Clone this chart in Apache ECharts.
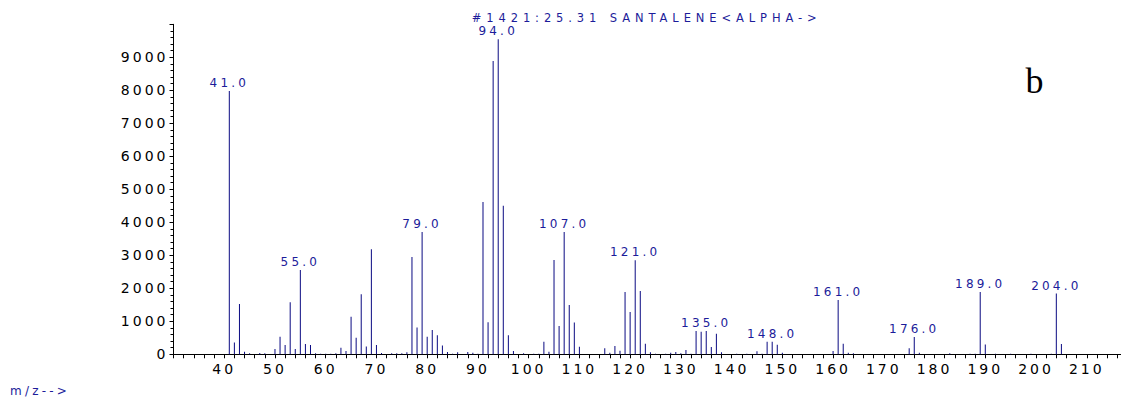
<!DOCTYPE html>
<html><head><meta charset="utf-8">
<script src="https://cdn.jsdelivr.net/npm/echarts@6/dist/echarts.min.js"></script>
<style>
html,body{margin:0;padding:0;background:#fff}
#chart{width:1121px;height:401px}
#chart text[style*="Verdana"]{letter-spacing:3px}
#chart text[style*="Tahoma"]{letter-spacing:3.2px}
#chart text[style*="Geneva"]{letter-spacing:4.9px}
</style></head><body><div id="chart"></div>
<script>
const mz = [41,42,43,44,45,47,48,50,51,52,53,54,55,56,57,58,59,60,61,62,63,64,65,66,67,68,69,70,71,73,74,75,76,77,78,79,80,81,82,83,84,85,86,88,89,90,91,92,93,94,95,96,97,99,101,102,103,104,105,106,107,108,109,110,115,116,117,118,119,120,121,122,123,124,125,127,128,129,130,131,132,133,134,135,136,137,138,141,143,145,146,147,148,149,150,160,161,162,163,164,175,176,177,183,187,188,189,190,192,195,199,203,204,205];
const intensity = [7980,360,1525,80,30,40,30,160,535,280,1575,160,2555,310,280,30,15,15,15,30,200,100,1140,505,1820,240,3180,280,40,30,30,30,60,2950,810,3705,535,735,575,270,70,20,60,70,50,20,4615,970,8890,9545,4505,575,100,30,15,15,380,80,2860,860,3705,1495,960,230,180,50,250,110,1890,1280,2850,1920,320,60,20,20,50,70,30,130,20,705,685,705,220,625,60,20,20,90,20,380,380,290,50,100,1645,320,50,30,180,525,50,30,15,20,1890,300,15,15,15,15,1840,310];
const labeledPeaks = [41,55,79,94,107,121,135,148,161,176,189,204];
const xTickLabels = [40,50,60,70,80,90,100,110,120,130,140,150,160,170,180,190,200,210];
const yTickLabels = [0,1000,2000,3000,4000,5000,6000,7000,8000,9000];
const titleText = '#1421:25.31 SANTALENE<ALPHA->';
const panelLetter = 'b';
const xAxisName = 'm/z-->';

const barColor = '#0a0a82';
const textBlue = '#1c1c9a';
const tickFont = "'DejaVu Sans', Verdana";
const peakFont = "'DejaVu Sans', Tahoma";
const titleFont = "'DejaVu Sans', Geneva";

const chart = echarts.init(document.getElementById('chart'), null, {renderer: 'svg'});
const seriesData = mz.map((m, i) => {
  const item = {value: [m, intensity[i]]};
  if (labeledPeaks.includes(m)) item.label = {show: true};
  return item;
});
chart.setOption({
  animation: false,
  backgroundColor: '#fff',
  grid: {left: 173.5, right: -16.5, top: 24.3, bottom: 46.7, containLabel: false, outerBoundsMode: 'none'},
  xAxis: {
    type: 'value', min: 30, max: 220, interval: 10,
    axisLine: {show: true, onZero: false, lineStyle: {color: '#000', width: 1}},
    axisTick: {show: true, length: 4, lineStyle: {color: '#000', width: 1}},
    minorTick: {show: true, splitNumber: 5, length: 4, lineStyle: {color: '#000', width: 1}},
    splitLine: {show: false}, minorSplitLine: {show: false},
    axisLabel: {
      showMinLabel: true, showMaxLabel: true,
      formatter: v => xTickLabels.includes(v) ? String(v) : '',
      margin: 8, color: '#000', fontFamily: tickFont, fontSize: 14
    }
  },
  yAxis: {
    type: 'value', min: 0, max: 10000, interval: 1000,
    axisLine: {show: true, lineStyle: {color: '#000', width: 1}},
    axisTick: {show: true, length: 4, lineStyle: {color: '#000', width: 1}},
    minorTick: {show: true, splitNumber: 5, length: 3, lineStyle: {color: '#000', width: 1}},
    splitLine: {show: false}, minorSplitLine: {show: false},
    axisLabel: {
      formatter: v => yTickLabels.includes(v) ? String(v) : '',
      margin: 5, color: '#000', fontFamily: tickFont, fontSize: 14
    }
  },
  series: [{
    type: 'bar',
    data: seriesData,
    barWidth: 1,
    itemStyle: {color: barColor},
    label: {
      show: false, position: 'top', distance: 2,
      formatter: p => p.value[0].toFixed(1),
      color: textBlue, fontFamily: peakFont, fontSize: 12
    }
  }],
  graphic: [
    {type: 'text', x: 471.7, y: 17.7, style: {text: titleText, font: "11.5px " + titleFont, fill: textBlue, textAlign: 'left', textVerticalAlign: 'middle'}},
    {type: 'text', x: 1034.5, y: 80.8, style: {text: panelLetter, font: "36px 'Liberation Serif'", fill: '#000', textAlign: 'center', textVerticalAlign: 'middle'}},
    {type: 'text', x: 10, y: 390.7, style: {text: xAxisName, font: "12px " + peakFont, fill: textBlue, textAlign: 'left', textVerticalAlign: 'middle'}}
  ]
});
</script></body></html>
